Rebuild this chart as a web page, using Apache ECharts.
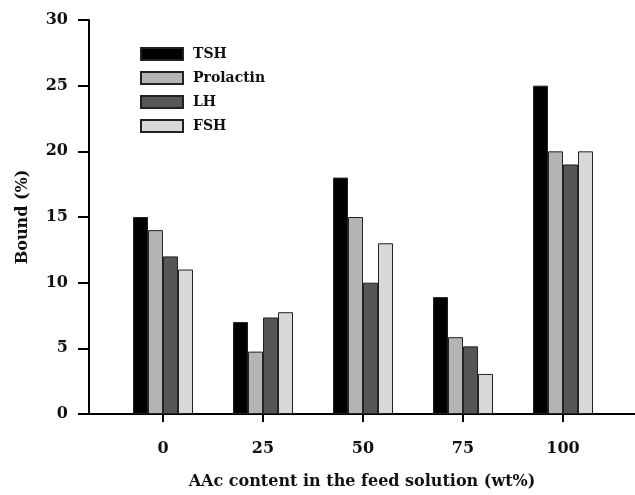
<!DOCTYPE html>
<html>
<head>
<meta charset="utf-8">
<script src="https://cdn.jsdelivr.net/npm/echarts@6/dist/echarts.min.js"></script>
<style>html,body{margin:0;padding:0;background:#fff}#c{width:635px;height:495px}</style>
</head>
<body>
<div id="c"></div>
<script>
var categories = [0, 25, 50, 75, 100];
var seriesNames = ['TSH', 'Prolactin', 'LH', 'FSH'];
var tsh = [15, 7, 18, 8.9, 25];
var prolactin = [14, 4.75, 15, 5.85, 20];
var lh = [12, 7.35, 10, 5.15, 19];
var fsh = [11, 7.75, 13, 3.05, 20];
var yTicks = [0, 5, 10, 15, 20, 25, 30];
var colors = ['#000000', '#b4b4b4', '#565656', '#d8d8d8'];
var values = [tsh, prolactin, lh, fsh];

var font = '"DejaVu Serif", "Liberation Serif", serif';
var chart = echarts.init(document.getElementById('c'), null, {renderer: 'canvas'});
chart.setOption({
  animation: false,
  backgroundColor: '#ffffff',
  textStyle: {fontFamily: font},
  grid: {left: 89, right: 0, top: 20, bottom: 72, containLabel: false},
  legend: {
    orient: 'vertical', left: 135, top: 42,
    itemWidth: 42, itemHeight: 12, itemGap: 10,
    icon: 'rect',
    textStyle: {fontFamily: font, fontWeight: 'bold', fontSize: 14, color: '#111', padding: [0, 0, 0, 5]},
    data: seriesNames
  },
  xAxis: {
    type: 'value', min: -18.5, max: 118,
    splitLine: {show: false},
    axisLine: {show: true, onZero: false, lineStyle: {color: '#000', width: 2}},
    axisTick: {show: true, customValues: categories, length: 8, lineStyle: {color: '#000', width: 2}},
    axisLabel: {customValues: categories, margin: 27, fontFamily: font, fontWeight: 'bold', fontSize: 16, color: '#111'},
    name: 'AAc content in the feed solution (wt%)',
    nameLocation: 'middle', nameGap: 60,
    nameTextStyle: {fontFamily: font, fontWeight: 'bold', fontSize: 16, color: '#111'}
  },
  yAxis: {
    type: 'value', min: yTicks[0], max: yTicks[yTicks.length - 1], interval: 5,
    splitLine: {show: false},
    axisLine: {show: true, onZero: false, lineStyle: {color: '#000', width: 2}},
    axisTick: {show: true, length: 11, lineStyle: {color: '#000', width: 2}},
    axisLabel: {margin: 21, fontFamily: font, fontWeight: 'bold', fontSize: 16, color: '#111'},
    name: 'Bound (%)', nameLocation: 'middle', nameGap: 58, nameRotate: 90,
    nameTextStyle: {fontFamily: font, fontWeight: 'bold', fontSize: 16, color: '#111'}
  },
  series: seriesNames.map(function (n, i) {
    return {
      name: n, type: 'bar', barWidth: 15, barGap: '0%',
      itemStyle: {color: colors[i], borderColor: '#222', borderWidth: 1},
      data: categories.map(function (c, j) { return [c, values[i][j]]; })
    };
  })
});
</script>
</body>
</html>
